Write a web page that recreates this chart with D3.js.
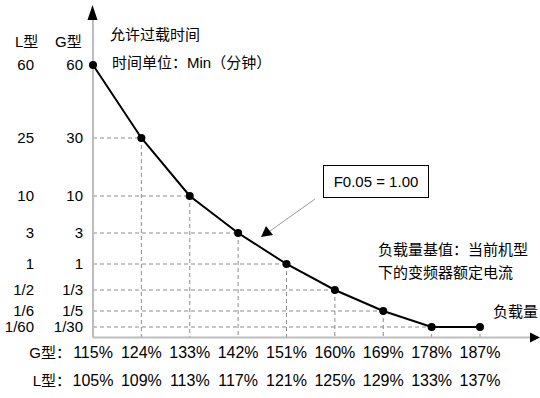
<!DOCTYPE html>
<html>
<head>
<meta charset="utf-8">
<script src="https://cdn.jsdelivr.net/npm/d3@7"></script>
<style>
  body { margin: 0; background: #fff; }
  text { font-family: "Liberation Sans", Arial, "Noto Sans CJK SC", sans-serif; font-size: 15px; fill: #000; }
</style>
</head>
<body>
<div id="chart"></div>
<script>
// data
var gLoad = ['115%', '124%', '133%', '142%', '151%', '160%', '169%', '178%', '187%'];
var lLoad = ['105%', '109%', '113%', '117%', '121%', '125%', '129%', '133%', '137%'];
var gLevels = ['60', '30', '10', '3', '1', '1/3', '1/5', '1/30'];
var lLevels = ['60', '25', '10', '3', '1', '1/2', '1/6', '1/60'];
var levelValues = [60, 30, 10, 3, 1, 1/3, 1/5, 1/30];
// allowed time (G型, min) at each load step
var allowTime = [60, 30, 10, 3, 1, 1/3, 1/5, 1/30, 1/30];

// setup SVG
var width = 540, height = 398;
var x0 = 93, x1 = 480, axisY = 337.5;
var svg = d3.select('#chart').append('svg')
    .attr('width', width).attr('height', height);

var x = d3.scalePoint().domain(d3.range(gLoad.length)).range([x0, x1]);
// schematic (non-uniform) time axis
var yStops = [65, 138, 196, 233, 264, 290, 311, 327];
var y = d3.scaleLinear().domain(levelValues).range(yStops);

// dashed guides
var guides = svg.append('g')
    .attr('stroke', '#8c8c8c').attr('stroke-width', 1)
    .attr('stroke-dasharray', '4,3').attr('fill', 'none');
allowTime.forEach(function(v, i) {
    if (i == 0) return;
    guides.append('line')
        .attr('x1', x(i)).attr('x2', x(i))
        .attr('y1', y(v)).attr('y2', axisY);
    if (i < allowTime.length - 1)
        guides.append('line')
            .attr('x1', x0).attr('x2', x(i))
            .attr('y1', y(v)).attr('y2', y(v));
});

// axes
svg.append('line').attr('x1', x0).attr('x2', x0).attr('y1', 18).attr('y2', axisY)
    .attr('stroke', '#bdbdbd').attr('stroke-width', 2);
svg.append('line').attr('x1', x0).attr('x2', 532).attr('y1', axisY).attr('y2', axisY)
    .attr('stroke', '#bdbdbd').attr('stroke-width', 2);
svg.append('path').attr('d', 'M92.5,5 L87.5,20 L97.5,20 Z').attr('fill', '#000');
svg.append('path').attr('d', 'M540,337.5 L530,332.5 L530,342.5 Z').attr('fill', '#000');

// curve
var line = d3.line()
    .x(function(d, i) { return x(i); })
    .y(function(d) { return y(d); });
svg.append('path').datum(allowTime)
    .attr('d', line).attr('fill', 'none')
    .attr('stroke', '#000').attr('stroke-width', 2);
svg.selectAll('circle.pt').data(allowTime).enter().append('circle')
    .attr('class', 'pt')
    .attr('cx', function(d, i) { return x(i); })
    .attr('cy', function(d) { return y(d); })
    .attr('r', 4).attr('fill', '#000');

// y labels (two columns)
svg.append('text').attr('x', 15).attr('y', 47).text('L型');
svg.append('text').attr('x', 55).attr('y', 47).text('G型');
svg.selectAll('text.ly').data(lLevels).enter().append('text')
    .attr('class', 'ly')
    .attr('text-anchor', 'end')
    .attr('x', 34).attr('y', function(d, i) { return y(levelValues[i]); })
    .attr('dy', '0.35em')
    .text(function(d) { return d; });
svg.selectAll('text.gy').data(gLevels).enter().append('text')
    .attr('class', 'gy')
    .attr('text-anchor', 'end')
    .attr('x', 83).attr('y', function(d, i) { return y(levelValues[i]); })
    .attr('dy', '0.35em')
    .text(function(d) { return d; });

// x labels
svg.append('text').attr('x', 71).attr('y', 358).attr('text-anchor', 'end').text('G型：');
svg.append('text').attr('x', 71).attr('y', 386).attr('text-anchor', 'end').text('L型：');
svg.selectAll('text.gx').data(gLoad).enter().append('text')
    .attr('class', 'gx').attr('text-anchor', 'middle')
    .style('font-size', '16px')
    .attr('x', function(d, i) { return x(i); }).attr('y', 358)
    .text(function(d) { return d; });
svg.selectAll('text.lx').data(lLoad).enter().append('text')
    .attr('class', 'lx').attr('text-anchor', 'middle')
    .style('font-size', '16px')
    .attr('x', function(d, i) { return x(i); }).attr('y', 386)
    .text(function(d) { return d; });

// titles and notes
svg.append('text').attr('x', 110).attr('y', 40).text('允许过载时间');
svg.append('text').attr('x', 112).attr('y', 68).text('时间单位：Min（分钟）');
svg.append('text').attr('x', 378).attr('y', 255).text('负载量基值：当前机型');
svg.append('text').attr('x', 378).attr('y', 278).text('下的变频器额定电流');
svg.append('text').attr('x', 493).attr('y', 317).text('负载量');

// parameter callout
svg.append('rect').attr('x', 323.5).attr('y', 165.5).attr('width', 105).attr('height', 32)
    .attr('fill', '#fff').attr('stroke', '#000').attr('stroke-width', 1);
svg.append('text').attr('x', 376).attr('y', 187).attr('text-anchor', 'middle').text('F0.05 = 1.00');
svg.append('line').attr('x1', 315).attr('y1', 199).attr('x2', 270).attr('y2', 231)
    .attr('stroke', '#9a9a9a').attr('stroke-width', 1);
svg.append('path').attr('d', 'M261,237 L266,226 L273,235 Z').attr('fill', '#000');
</script>
</body>
</html>
